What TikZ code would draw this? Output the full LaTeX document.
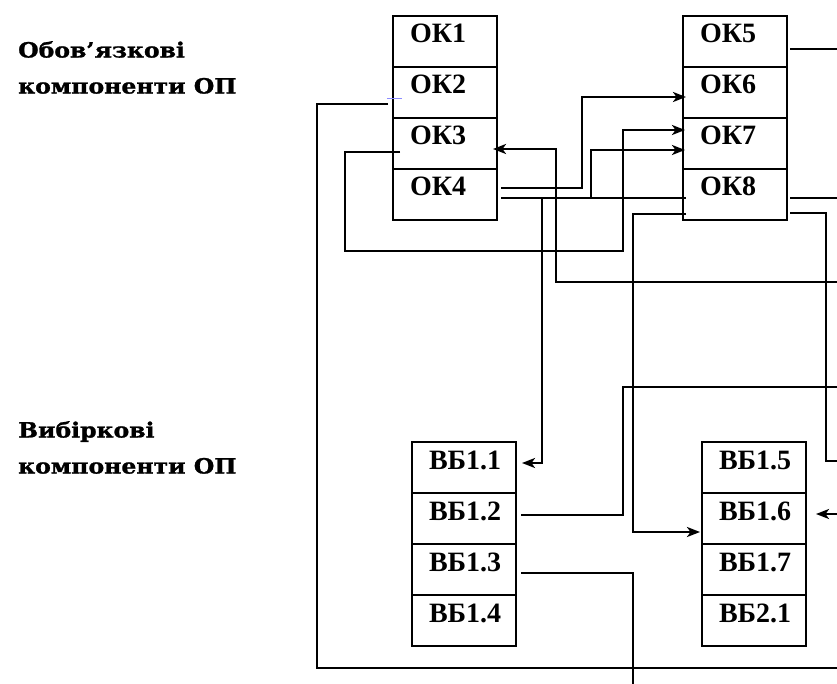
\documentclass[tikz,border=0pt]{standalone}
\usepackage{fontspec}
\usetikzlibrary{arrows.meta,calc}
\newfontfamily\okfont{Liberation Serif}
\newfontfamily\labfont[FakeStretch=1.12,FakeBold=1.2]{DejaVu Serif}
\tikzset{
  cell/.style={draw, line width=2.3pt, outer sep=0pt, minimum width=104pt, minimum height=51pt,
    inner xsep=17pt, inner ysep=0pt, text width=70pt, align=left,
    text height=19pt, text depth=16pt, anchor=north west,
    font=\okfont\bfseries\fontsize{28}{28}\selectfont},
  conn/.style={line width=2.3pt},
  arr/.style={conn, -{Stealth[length=13pt,width=10pt,inset=3.5pt]}},
  sidelabel/.style={anchor=north west, inner sep=0pt, align=left,
    font=\labfont\bfseries\fontsize{21}{36}\selectfont}
}
\begin{document}
\begin{tikzpicture}[x=1pt,y=-1pt]
\useasboundingbox[fill=white] (0,0) rectangle (837,684);
% side labels
\node[sidelabel] (lab1) at (18,41) {Обов’язкові\\компоненти ОП};
\node[sidelabel] (lab2) at (18,421) {Вибіркові\\компоненти ОП};
% mandatory components
\node[cell] (ok1) at (393,16) {ОК1};
\node[cell] (ok2) at (393,67) {ОК2};
\node[cell] (ok3) at (393,118) {ОК3};
\node[cell] (ok4) at (393,169) {ОК4};
\node[cell] (ok5) at (683,16) {ОК5};
\node[cell] (ok6) at (683,67) {ОК6};
\node[cell] (ok7) at (683,118) {ОК7};
\node[cell] (ok8) at (683,169) {ОК8};
% elective components
\node[cell] (vb11) at (412,442) {ВБ1.1};
\node[cell] (vb12) at (412,493) {ВБ1.2};
\node[cell] (vb13) at (412,544) {ВБ1.3};
\node[cell] (vb14) at (412,595) {ВБ1.4};
\node[cell] (vb15) at (702,442) {ВБ1.5};
\node[cell] (vb16) at (702,493) {ВБ1.6};
\node[cell] (vb17) at (702,544) {ВБ1.7};
\node[cell] (vb21) at (702,595) {ВБ2.1};
% free ends on the right and bottom edges
\coordinate (e49) at (837,49);
\coordinate (e198) at (837,198);
\coordinate (e282) at (837,282);
\coordinate (e387) at (837,387);
\coordinate (e461) at (837,461);
\coordinate (e514) at (837,514);
\coordinate (e668) at (837,668);
\coordinate (b633) at (633,684);
% small blue tick
\draw[line width=0.8pt, color=blue!45] ($(ok2.west)+(-6,5.5)$) -- ($(ok2.west)+(9,5.5)$);
% connectors
\draw[conn] ($(ok2.west)+(-5,11.5)$) -| (317,668) -- (e668);
\draw[arr] ($(ok3.west)+(7,8.5)$) -| (345,251) -| (623,130) -- ($(ok7.west)+(2,-13.5)$);
\draw[arr] (e282) -| (556,149) -- ($(ok3.east)+(-4,5.5)$);
\draw[arr] ($(ok4.east)+(4,-6.5)$) -| (582,97) -- ($(ok6.west)+(3,4.5)$);
\draw[conn] ($(ok4.east)+(4,3.5)$) -- ($(ok8.west)+(3,3.5)$);
\draw[arr] (591,198) |- ($(ok7.west)+(2,6.5)$);
\draw[arr] (542,198) |- ($(vb11.east)+(6,-4.5)$);
\draw[conn] ($(ok5.east)+(3,7.5)$) -- (e49);
\draw[conn] ($(ok8.east)+(3,3.5)$) -- (e198);
\draw[conn] ($(ok8.east)+(3,18.5)$) -| (826,461) -- (e461);
\draw[arr] ($(ok8.west)+(3,19.5)$) -| (633,532) -- ($(vb16.west)+(-2,13.5)$);
\draw[conn] ($(vb12.east)+(5,-3.5)$) -| (623,387) -- (e387);
\draw[conn] ($(vb13.east)+(5,3.5)$) -| (b633);
\draw[arr] (e514) -- ($(vb16.east)+(10,-4.5)$);
\end{tikzpicture}
\end{document}
